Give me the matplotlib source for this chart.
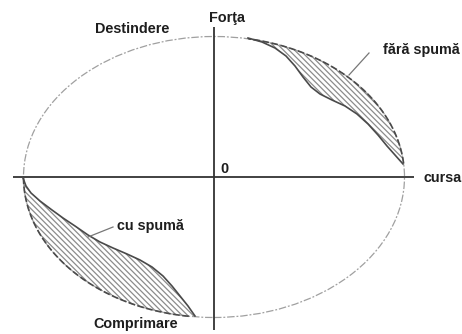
import numpy as np
import matplotlib
matplotlib.use("Agg")
import matplotlib.pyplot as plt
from matplotlib.patches import Ellipse, Polygon

plt.rcParams["hatch.linewidth"] = 0.9
plt.rcParams["hatch.color"] = "#8c8c8c"

# ---- data (diagram coordinates: stroke x, force y; origin at centre) ----
stroke_amp = 190.5
force_amp = 140.5

# inner (solid) boundary of the "fara spuma" lobe (upper right)
fara_x = [34, 48, 61, 72, 81, 89, 97, 106, 118, 131, 143, 154, 164, 173, 181, 189]
fara_y = [139, 135, 129, 121, 111, 100, 90, 83, 77, 71, 63, 53, 42, 31, 22, 13]
fara_arc = (5.5, 79.6)      # ellipse arc (degrees) closing the lobe

# inner (solid) boundary of the "cu spuma" lobe (lower left)
cu_x = [-191, -188, -183, -174, -162, -151, -139, -126, -114, -101, -87, -74, -62, -51, -42, -34, -26, -19]
cu_y = [-1, -9, -16, -24, -33, -41, -49, -58, -65, -71, -77, -83, -90, -99, -109, -119, -129, -139]
cu_arc = (180.0, 262.4)

labels = {
    "Destindere": (-119, 144, "left"),
    "Forţa": (-5, 155, "left"),
    "fără spumă": (169, 123, "left"),
    "cursa": (210, -5, "left"),
    "0": (10.5, 4, "center"),
    "cu spumă": (-97, -53, "left"),
    "Comprimare": (-121, -151, "left"),
}

leaders = [((155, 124), (135, 102)), ((-101, -50), (-126, -60))]

# ---- figure ----
fig = plt.figure(figsize=(4.62, 3.34), dpi=100)
ax = fig.add_axes([0, 0, 1, 1])
ax.set_xlim(-214, 248)
ax.set_ylim(-157, 177)
ax.axis("off")

# axes lines
ax.plot([-201, 200], [0, 0], color="#333333", lw=1.3, solid_capstyle="butt")
ax.plot([0, 0], [-153, 150], color="#333333", lw=1.3, solid_capstyle="butt")

# full ellipse (light, dashed)
ell = Ellipse((0, 0), 2 * stroke_amp, 2 * force_amp, fill=False,
              edgecolor="#a0a0a0", lw=0.9, linestyle=(0, (6, 1.5, 1.5, 1.5)))
ax.add_patch(ell)


def arc(t0, t1, n=80):
    t = np.radians(np.linspace(t0, t1, n))
    return stroke_amp * np.cos(t), force_amp * np.sin(t)


def lobe(ix, iy, arc_range, reverse_arc):
    ax_, ay_ = arc(*arc_range)
    if reverse_arc:
        ax_, ay_ = ax_[::-1], ay_[::-1]
    px = list(ix) + list(ax_)
    py = list(iy) + list(ay_)
    poly = Polygon(np.column_stack([px, py]), closed=True, facecolor="none",
                   edgecolor="#8c8c8c", hatch="\\\\\\\\\\\\", lw=0)
    ax.add_patch(poly)
    ax.plot(ix, iy, color="#4a4a4a", lw=1.2)
    ax.plot(ax_, ay_, color="#4a4a4a", lw=1.2, linestyle=(0, (4, 1.5)))


lobe(fara_x, fara_y, fara_arc, reverse_arc=False)
lobe(cu_x, cu_y, cu_arc, reverse_arc=True)

for (p0, p1) in leaders:
    ax.plot([p0[0], p1[0]], [p0[1], p1[1]], color="#777777", lw=0.9)

for txt, (x, y, ha) in labels.items():
    ax.text(x, y, txt, ha=ha, va="baseline", fontsize=10.4, fontweight="bold",
            family=["Liberation Sans", "DejaVu Sans"], color="#1e1e1e")

fig.savefig("out.png", dpi=100)
